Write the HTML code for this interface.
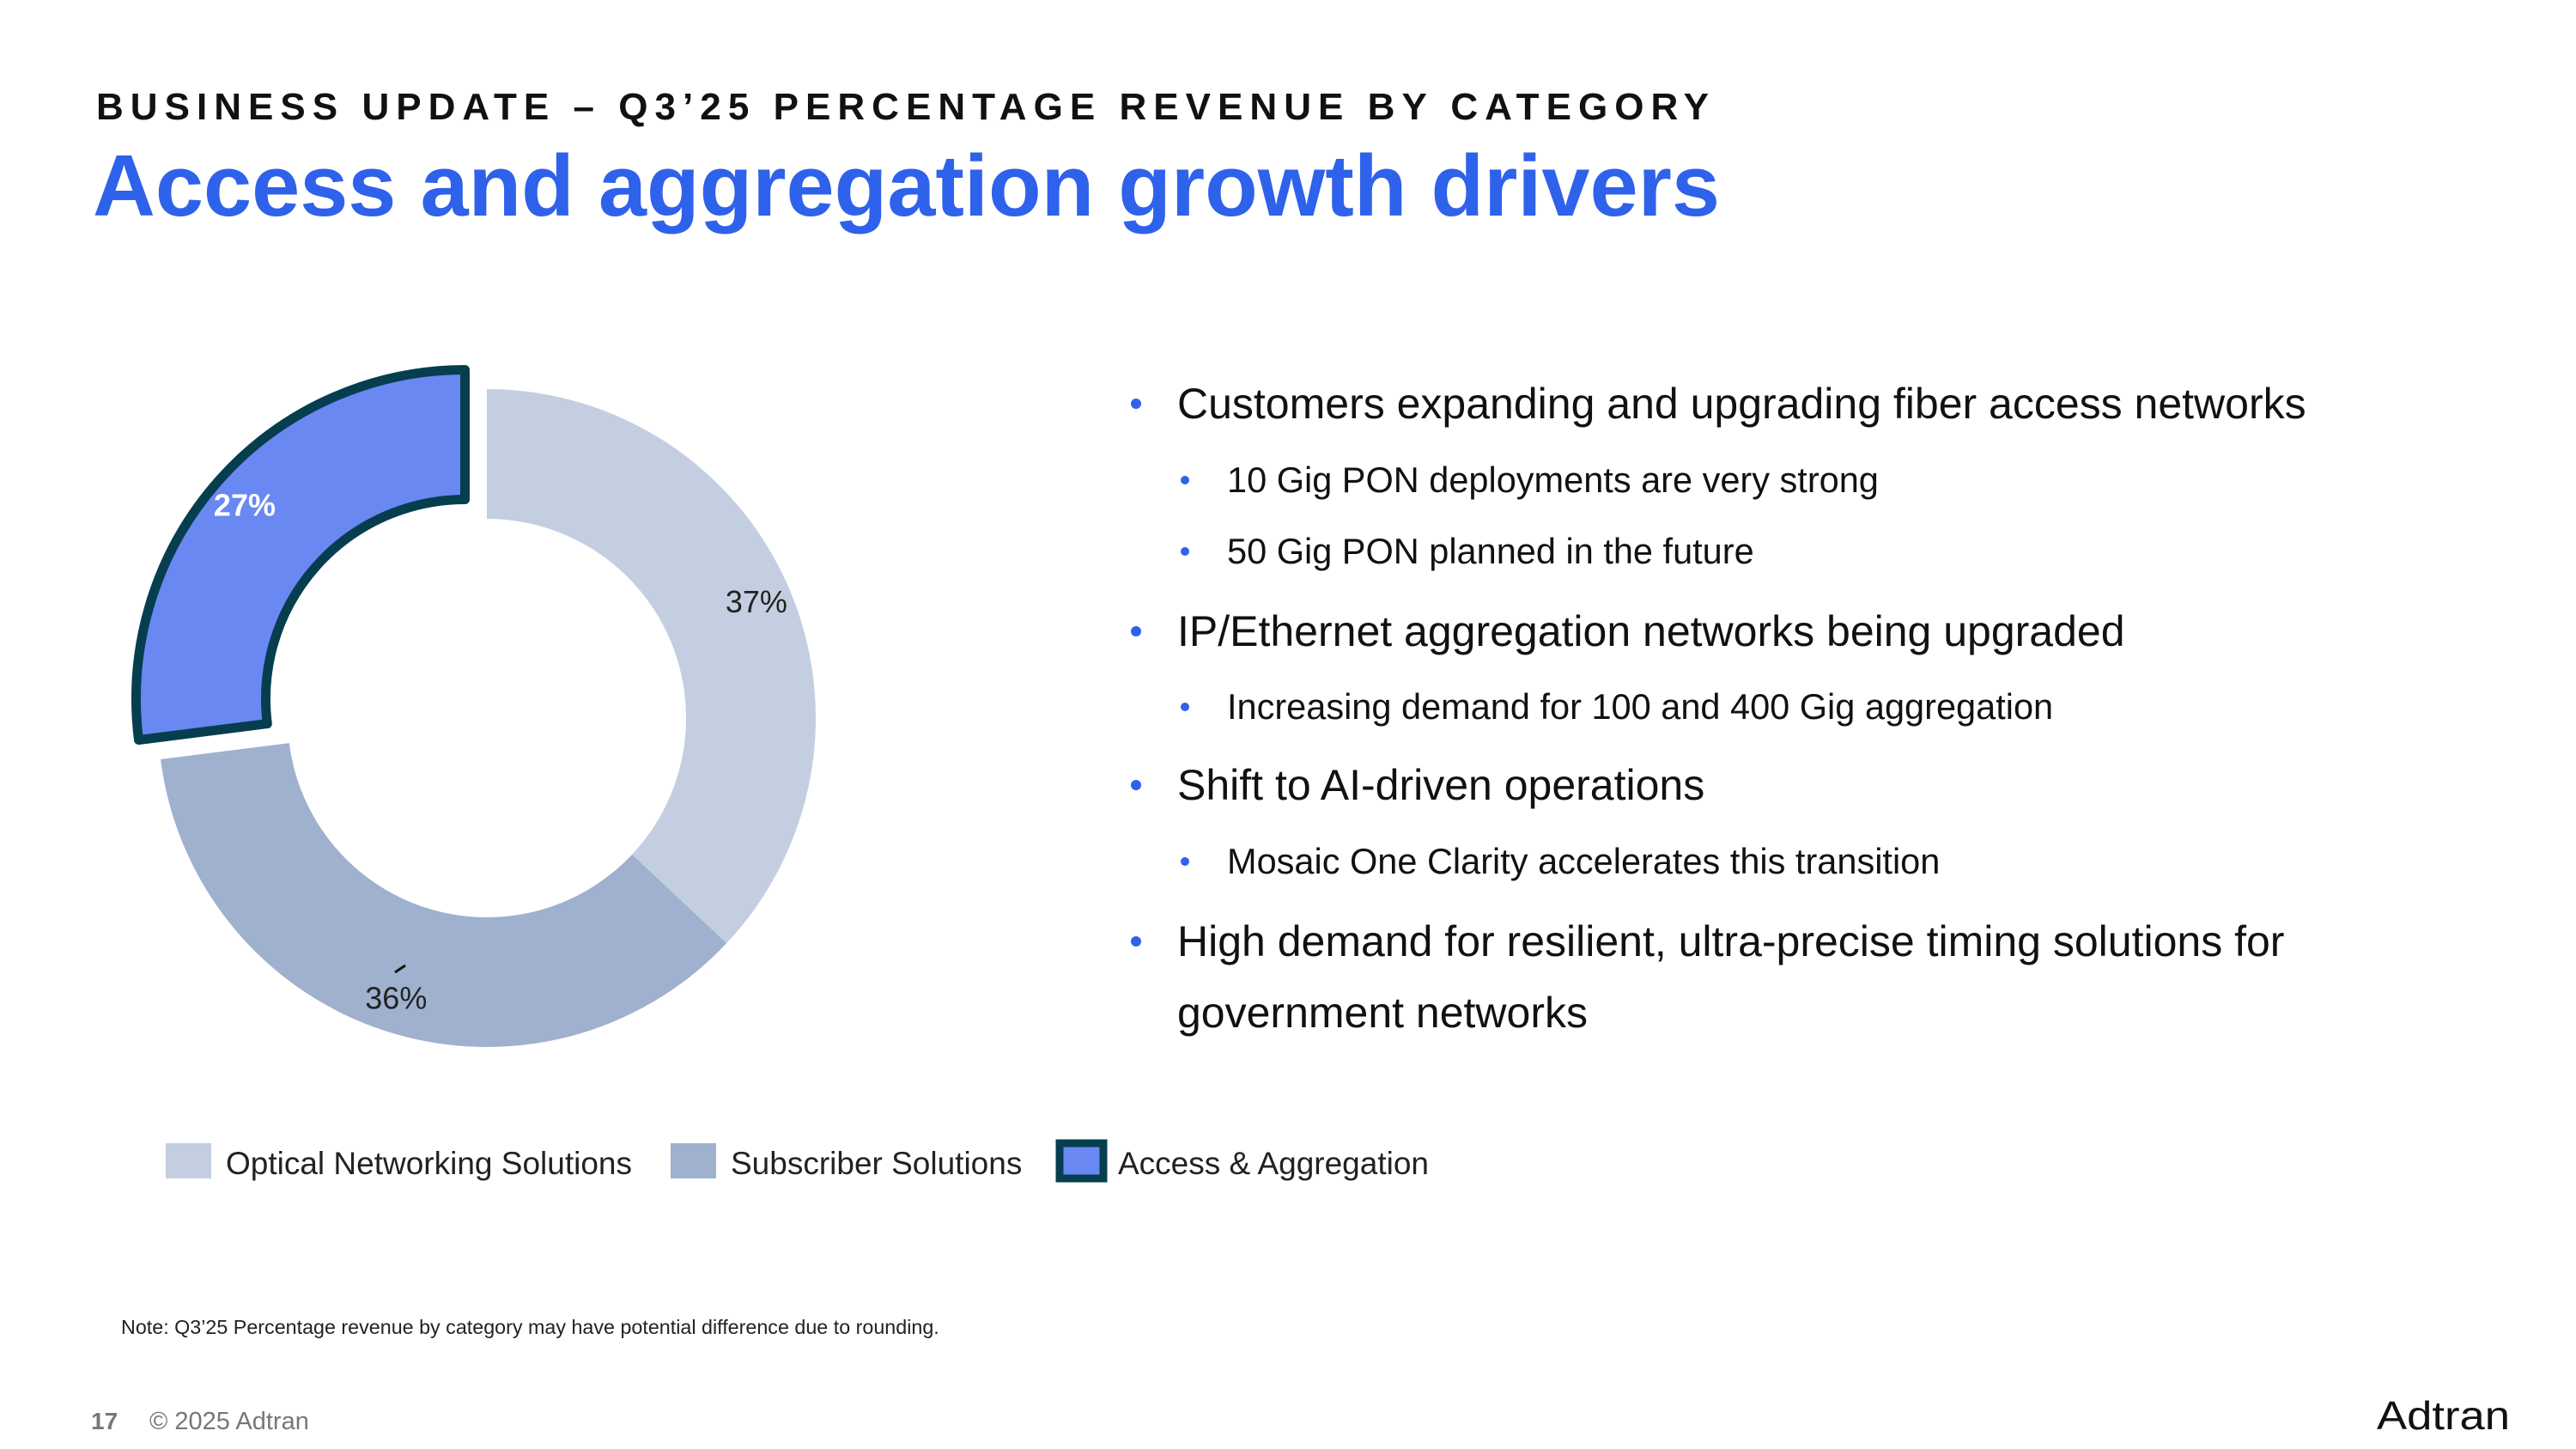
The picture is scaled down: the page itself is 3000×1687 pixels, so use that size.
<!DOCTYPE html>
<html><head><meta charset="utf-8"><style>
body{margin:0;background:#fff}
svg{display:block;font-family:"Liberation Sans",Arial,sans-serif}
</style></head><body>
<svg id="s" width="3000" height="1687" viewBox="0 0 3000 1687">
<text x="112" y="139" font-size="44" font-weight="bold" fill="#111" textLength="1878" lengthAdjust="spacing">BUSINESS UPDATE – Q3’25 PERCENTAGE REVENUE BY CATEGORY</text>
<text x="108" y="251" font-size="101" font-weight="bold" fill="#2f62ea" textLength="1895" lengthAdjust="spacingAndGlyphs">Access and aggregation growth drivers</text>
<g id="donut"></g>
<line x1="460" y1="1132" x2="472" y2="1124" stroke="#111" stroke-width="3"/>
<g>
<rect x="193" y="1331" width="53" height="41" fill="#c3cfe1"/>
<text x="263" y="1367" font-size="37" fill="#222">Optical Networking Solutions</text>
<rect x="781" y="1331" width="53" height="41" fill="#9fb1cf"/>
<text x="851" y="1367" font-size="37" fill="#222">Subscriber Solutions</text>
<rect x="1234" y="1331" width="51" height="41" fill="#6a88f2" stroke="#063e4f" stroke-width="9"/>
<text x="1302" y="1367" font-size="37" fill="#222">Access &amp; Aggregation</text>
</g>
<g fill="#111">
<g fill="#2f62ea">
<circle cx="1323" cy="470" r="6"/><circle cx="1323" cy="735" r="6"/><circle cx="1323" cy="914" r="6"/><circle cx="1323" cy="1096" r="6"/>
<circle cx="1380" cy="559" r="5"/><circle cx="1380" cy="642" r="5"/><circle cx="1380" cy="823" r="5"/><circle cx="1380" cy="1003" r="5"/>
</g>
<g font-size="50">
<text x="1371" y="487">Customers expanding and upgrading fiber access networks</text>
<text x="1371" y="752">IP/Ethernet aggregation networks being upgraded</text>
<text x="1371" y="931">Shift to AI-driven operations</text>
<text x="1371" y="1113">High demand for resilient, ultra-precise timing solutions for</text>
<text x="1371" y="1196">government networks</text>
</g>
<g font-size="41.5">
<text x="1429" y="573">10 Gig PON deployments are very strong</text>
<text x="1429" y="656">50 Gig PON planned in the future</text>
<text x="1429" y="837">Increasing demand for 100 and 400 Gig aggregation</text>
<text x="1429" y="1017">Mosaic One Clarity accelerates this transition</text>
</g>
</g>
<text x="141" y="1553" font-size="23.3" fill="#222">Note: Q3’25 Percentage revenue by category may have potential difference due to rounding.</text>
<text x="106" y="1664" font-size="28" font-weight="bold" fill="#777">17</text>
<text x="174" y="1664" font-size="29" fill="#777">© 2025 Adtran</text>
<text x="2768" y="1664" font-size="46" fill="#111" textLength="155" lengthAdjust="spacingAndGlyphs">Adtran</text>
</svg>
<script>
const categories=["Optical Networking Solutions","Subscriber Solutions","Access & Aggregation"];
const shares=[37,36,27];
const labels=["37%","36%","27%"];
const colors=["#c3cfe1","#9fb1cf","#6a88f2"];
const ns="http://www.w3.org/2000/svg";
const g=document.getElementById('donut');
const cx=567,cy=836,R=383,r=232;
const total=shares.reduce((a,b)=>a+b,0);
function pt(a,rad,ox,oy){return [cx+ox+rad*Math.sin(a),cy+oy-rad*Math.cos(a)];}
let acc=0;
shares.forEach((v,i)=>{
  const a0=acc/total*2*Math.PI, a1=(acc+v)/total*2*Math.PI; acc+=v;
  const mid=(a0+a1)/2, ex=i===2?34:0;
  const ox=ex*Math.sin(mid), oy=-ex*Math.cos(mid);
  const p1=pt(a0,R,ox,oy),p2=pt(a1,R,ox,oy),p3=pt(a1,r,ox,oy),p4=pt(a0,r,ox,oy);
  const lg=(a1-a0)>Math.PI?1:0;
  const p=document.createElementNS(ns,'path');
  p.setAttribute('d',`M${p1}A${R},${R} 0 ${lg} 1 ${p2}L${p3}A${r},${r} 0 ${lg} 0 ${p4}Z`);
  p.setAttribute('fill',colors[i]);
  if(i===2){p.setAttribute('stroke','#063e4f');p.setAttribute('stroke-width','11');p.setAttribute('stroke-linejoin','round');}
  
  
  g.appendChild(p);
  const lp=pt(mid,342,ox,oy);
  const t=document.createElementNS(ns,'text');
  t.setAttribute('x',lp[0]);t.setAttribute('y',lp[1]+13);
  t.setAttribute('text-anchor','middle');t.setAttribute('font-size','36');
  t.setAttribute('fill',i===2?'#fff':'#222');
  if(i===2)t.setAttribute('font-weight','bold');
  t.textContent=labels[i];
  
  
  g.appendChild(t);
});
</script>
</body></html>
